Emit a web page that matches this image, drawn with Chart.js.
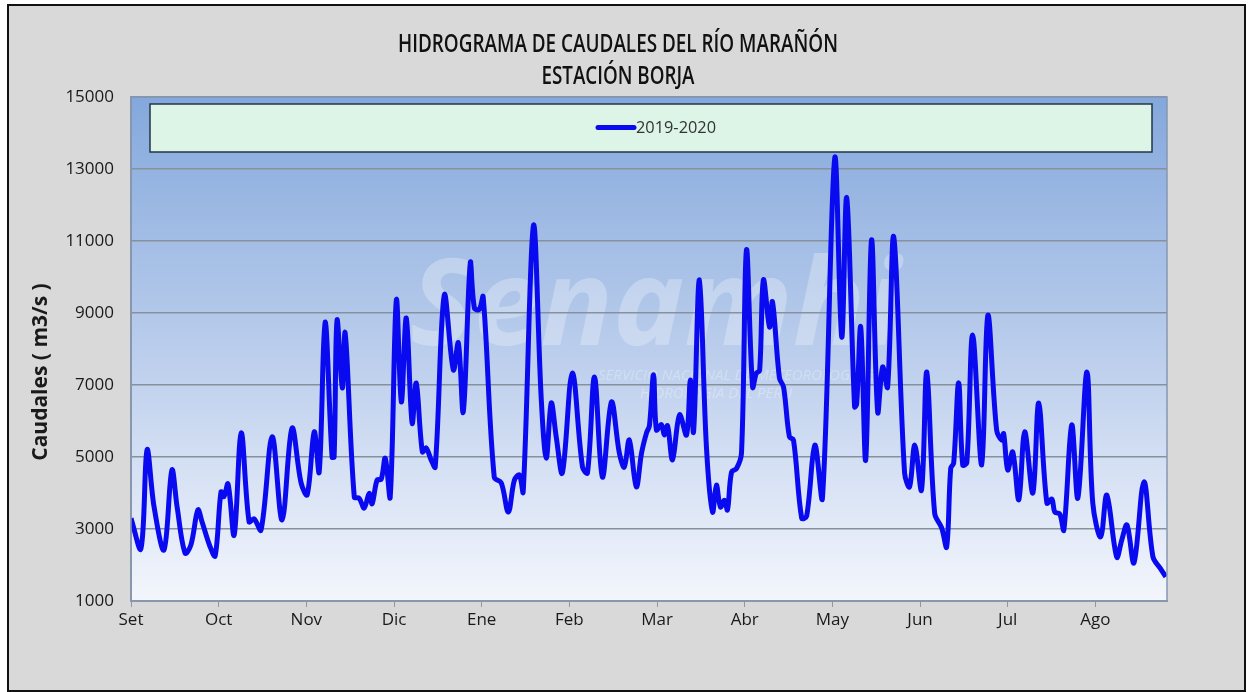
<!DOCTYPE html>
<html>
<head>
<meta charset="utf-8">
<script src="https://cdn.jsdelivr.net/npm/chart.js@4.4.1/dist/chart.umd.min.js"></script>
<style>
    html, body { margin: 0; padding: 0; background: #fff; }
    #frame { position: absolute; left: 7px; top: 4px; width: 1239px; height: 688px; border: 2px solid #111; background: #d9d9d9; box-sizing: border-box; }
    #wrap { position: absolute; left: 0; top: 0; width: 1250px; height: 692px; }
</style>
</head>
<body>
<div id="frame"></div>
<div id="wrap"><canvas id="hidrograma" width="1250" height="692"></canvas></div>
<script>
// posición en días desde el 1 de setiembre (ticks cada 30 días)
const dias = [
    0, 3.4, 5.5, 7.9, 11.3, 14.0, 15.8, 18.5, 20.5, 22.9, 24.3, 27.1, 28.8, 30.8, 31.8, 33.2, 35.3, 37.7, 40.4, 42.1,
    44.5, 48.3, 51.7, 55.1, 58.2, 60.3, 62.7, 64.4, 66.4, 68.8, 69.5, 70.5, 72.3, 73.3, 76.4, 78.1, 79.8, 81.5, 82.5, 84.2,
    85.6, 87.0, 88.7, 90.8, 92.5, 94.2, 96.2, 97.6, 99.7, 101.0, 102.7, 104.1, 107.2, 110.3, 112.0, 113.7, 116.1, 117.5, 119.2, 120.5,
    124.3, 126.7, 129.1, 131.2, 132.9, 134.2, 137.7, 140.4, 142.1, 143.8, 145.5, 147.6, 151.0, 154.5, 156.2, 158.6, 161.3, 164.4, 167.1, 168.8,
    170.5, 172.9, 174.7, 176.4, 177.4, 178.8, 179.8, 181.5, 182.5, 183.6, 185.3, 187.7, 190.1, 191.4, 192.5, 194.5, 196.9, 199.0, 200.3, 201.7,
    203.1, 204.1, 205.5, 207.2, 208.9, 210.6, 212.7, 214.0, 215.1, 216.4, 218.5, 219.5, 221.9, 223.3, 225.3, 226.7, 229.5, 231.2, 234.0, 236.6,
    240.8, 243.2, 244.9, 247.6, 248.3, 249.7, 251.4, 253.4, 255.5, 257.2, 258.9, 261.0, 264.7, 266.4, 268.2, 270.5, 272.3, 275.0, 277.4, 279.1,
    280.5, 281.5, 283.2, 284.6, 286.0, 288.0, 291.1, 293.2, 296.2, 297.9, 298.6, 300.0, 301.7, 303.8, 305.8, 308.6, 310.6, 313.4, 315.1, 316.1,
    317.8, 319.2, 321.9, 324.0, 327.1, 329.1, 331.8, 333.9, 337.3, 339.0, 340.8, 343.2, 346.6, 349.7, 352.1, 354.1
];
const caudales = [
    3300, 2450, 5200, 3610, 2420, 4640, 3600, 2330, 2560, 3530, 3200, 2500, 2250, 4030, 3900, 4250, 2830, 5670, 3200, 3280,
    2970, 5560, 3250, 5800, 4280, 3950, 5700, 4580, 8750, 5000, 5000, 8800, 6920, 8440, 3890, 3850, 3580, 3990, 3700, 4360,
    4380, 4970, 3890, 9360, 6530, 8860, 5940, 7050, 5140, 5250, 4920, 4720, 9500, 7420, 8170, 6250, 10390, 9140, 9100, 9450,
    4440, 4280, 3470, 4360, 4500, 4030, 11420, 6580, 4970, 6500, 5560, 4560, 7330, 4720, 4560, 7220, 4440, 6530, 5110, 4720,
    5470, 4170, 5110, 5670, 5870, 7280, 5750, 5900, 5610, 5870, 4920, 6170, 5610, 7140, 5700, 9920, 5280, 3470, 4220, 3610,
    3800, 3530, 4580, 4680, 5110, 10750, 6940, 7330, 7400, 9920, 8610, 9310, 7190, 6940, 5560, 5470, 3300, 3360, 5330, 3860,
    13300, 8330, 12200, 6390, 6470, 8610, 4920, 11030, 6250, 7500, 6940, 11110, 4560, 4170, 5330, 4080, 7360, 3440, 3030, 2500,
    4690, 4830, 7060, 4780, 4840, 8390, 4780, 8940, 5750, 5470, 5650, 4640, 5140, 3810, 5700, 4000, 6500, 3720, 3830, 3470,
    3420, 2970, 5890, 3860, 7360, 3720, 2780, 3940, 2220, 2690, 3110, 2060, 4310, 2220, 1920, 1670
];
const meses = ['Set', 'Oct', 'Nov', 'Dic', 'Ene', 'Feb', 'Mar', 'Abr', 'May', 'Jun', 'Jul', 'Ago'];
const serie = '2019-2020';
const titulo = ['HIDROGRAMA DE CAUDALES DEL RÍO MARAÑÓN', 'ESTACIÓN BORJA'];
const ejeY = 'Caudales ( m3/s )';

const azul = '#0a0af0';

// texto angosto (tipo Calibri): se comprime horizontalmente hasta el ancho dado
function textoAngosto(ctx, txt, x, y, ancho) {
    const w = ctx.measureText(txt).width;
    ctx.save();
    ctx.translate(x, y);
    ctx.scale(ancho / w, 1);
    ctx.fillText(txt, 0, 0);
    ctx.restore();
}

const decoracion = {
    id: 'decoracion',
    beforeDraw(chart) {
        const { ctx, chartArea: a } = chart;
        ctx.save();
        const g = ctx.createLinearGradient(0, a.top, 0, a.bottom);
        g.addColorStop(0, '#84a8dc');
        g.addColorStop(0.5, '#bacdec');
        g.addColorStop(1, '#f3f6fc');
        ctx.fillStyle = g;
        ctx.fillRect(a.left, a.top, a.right - a.left, a.bottom - a.top);

        // marca de agua
        ctx.fillStyle = 'rgba(255,255,255,0.28)';
        ctx.font = 'italic bold 120px "Open Sans"';
        ctx.textAlign = 'left';
        ctx.textBaseline = 'alphabetic';
        ctx.fillText('Senamhi', 410, 345);
        ctx.font = 'italic 15px "Open Sans"';
        ctx.fillText('SERVICIO NACIONAL DE METEOROLOGÍA E', 598, 380);
        ctx.fillText('HIDROLOGÍA DEL PERÚ', 640, 398);

        // títulos
        ctx.fillStyle = '#111';
        ctx.textAlign = 'center';
        ctx.textBaseline = 'middle';
        ctx.font = '600 25px "Open Sans"';
        textoAngosto(ctx, titulo[0], 618, 45, 440);
        textoAngosto(ctx, titulo[1], 618, 77, 153);

        // título eje Y
        ctx.fillStyle = '#1a1a1a';
        ctx.translate(41, 372);
        ctx.rotate(-Math.PI / 2);
        ctx.font = 'bold 21px "Open Sans"';
        ctx.fillText(ejeY, 0, 0);
        ctx.restore();
    },
    afterDatasetsDraw(chart) {
        const { ctx, chartArea: a } = chart;
        ctx.save();
        ctx.strokeStyle = '#8597b3';
        ctx.lineWidth = 1.5;
        ctx.strokeRect(a.left, a.top, a.right - a.left, a.bottom - a.top);

        // leyenda
        ctx.fillStyle = '#dcf5e7';
        ctx.fillRect(150, 104, 1002, 48);
        ctx.strokeStyle = '#23344a';
        ctx.lineWidth = 1.5;
        ctx.strokeRect(150, 104, 1002, 48);
        ctx.strokeStyle = azul;
        ctx.lineWidth = 5;
        ctx.lineCap = 'round';
        ctx.beginPath();
        ctx.moveTo(598, 127.5);
        ctx.lineTo(634, 127.5);
        ctx.stroke();
        ctx.fillStyle = '#333';
        ctx.font = '16px "Open Sans"';
        ctx.textAlign = 'left';
        ctx.textBaseline = 'middle';
        textoAngosto(ctx, serie, 636, 128, 80);
        ctx.restore();
    }
};

new Chart(document.getElementById('hidrograma'), {
    type: 'line',
    data: {
        datasets: [{
            label: serie,
            data: dias.map((d, i) => ({ x: d, y: caudales[i] })),
            borderColor: azul,
            borderWidth: 5,
            pointRadius: 0,
            tension: 0.35,
            fill: false
        }]
    },
    options: {
        responsive: false,
        animation: false,
        devicePixelRatio: 1,
        layout: { padding: { left: 20, right: 83, top: 97, bottom: 0 } },
        plugins: { legend: { display: false }, tooltip: { enabled: false } },
        scales: {
            x: {
                type: 'linear',
                min: 0,
                max: 354.5,
                afterBuildTicks: (s) => { s.ticks = meses.map((m, i) => ({ value: i * 30 })); },
                afterFit: (s) => { s.height = 91; },
                ticks: {
                    autoSkip: false,
                    maxRotation: 0,
                    padding: 3,
                    color: '#1a1a1a',
                    font: { family: 'Open Sans', size: 17 },
                    callback: (v) => meses[Math.round(v / 30)]
                },
                grid: { drawOnChartArea: false, drawTicks: true, tickLength: 6, color: '#8e98a3' },
                border: { color: '#8e98a3', width: 2 }
            },
            y: {
                min: 1000,
                max: 15000,
                afterFit: (s) => { s.width = 111; },
                ticks: {
                    stepSize: 2000,
                    padding: 17,
                    color: '#1a1a1a',
                    font: { family: 'Open Sans', size: 17 },
                    callback: (v) => String(v)
                },
                grid: { color: '#87919b', lineWidth: 1.5, drawTicks: false },
                border: { color: '#8e98a3', width: 2 }
            }
        }
    },
    plugins: [decoracion]
});
</script>
</body>
</html>
